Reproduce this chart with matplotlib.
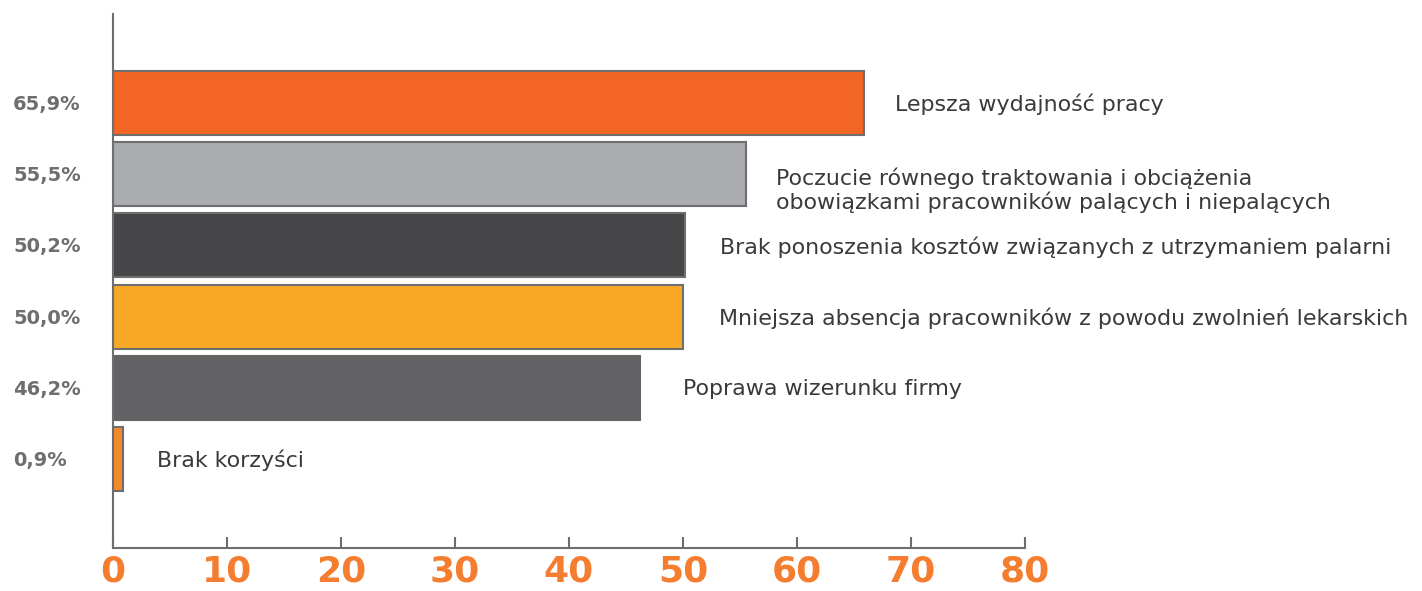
import matplotlib
matplotlib.use("Agg")
import matplotlib.pyplot as plt
import numpy as np

# data
categories = [
    "Lepsza wydajność pracy",
    "Poczucie równego traktowania i obciążenia\nobowiązkami pracowników palących i niepalących",
    "Brak ponoszenia kosztów związanych z utrzymaniem palarni",
    "Mniejsza absencja pracowników z powodu zwolnień lekarskich",
    "Poprawa wizerunku firmy",
    "Brak korzyści",
]
values = [65.9, 55.5, 50.2, 50.0, 46.2, 0.9]
value_labels = ["65,9%", "55,5%", "50,2%", "50,0%", "46,2%", "0,9%"]
x_ticks = [0, 10, 20, 30, 40, 50, 60, 70, 80]

bar_colors = ["#f26522", "#abacaf", "#464648", "#f9a825", "#636365", "#f58a2a"]
edge_colors = ["#6d6e70", "#6d6e70", "#6d6e70", "#6d6e70", "#636365", "#6d6e70"]
label_gap = [22, 22, 25, 26, 31, 24]  # points between bar end and label
grey = "#6d6e70"
orange = "#f47d30"

plt.rcParams['font.family'] = ['DejaVu Sans']

fig = plt.figure(figsize=(14.22, 5.91), dpi=100)
ax = fig.add_axes([113 / 1422, 43 / 591, 912 / 1422, 534 / 591])

y = np.arange(len(values))
ax.barh(y, values, height=0.9, color=bar_colors, edgecolor=edge_colors, linewidth=1.5)

ax.set_xlim(0, 80)
ax.set_ylim(len(values) - 1 + 1.25, -1.25)

for i, (v, cat) in enumerate(zip(values, categories)):
    dy = 0.22 if "\n" in cat else 0.02
    ax.annotate(cat, xy=(v, i + dy), xytext=(label_gap[i], 0), textcoords="offset points",
                va="center", ha="left", fontsize=15.9, color="#3a3a3c",
                linespacing=1.15)
    ax.annotate(value_labels[i], xy=(0, i + 0.02), xycoords=("figure fraction", "data"),
                xytext=(9.5, 0), textcoords="offset points", va="center", ha="left",
                fontsize=14, fontweight="bold", color=grey)

for s in ["top", "right"]:
    ax.spines[s].set_visible(False)
for s in ["left", "bottom"]:
    ax.spines[s].set_color(grey)
    ax.spines[s].set_linewidth(1.5)

ax.set_yticks([])
ax.set_xticks(x_ticks)
ax.tick_params(axis="x", direction="in", length=8, width=1.5, color=grey,
               pad=5, labelsize=26, labelcolor=orange)
for t in ax.get_xticklabels():
    t.set_fontweight("bold")

fig.savefig("out.png", dpi=100)
